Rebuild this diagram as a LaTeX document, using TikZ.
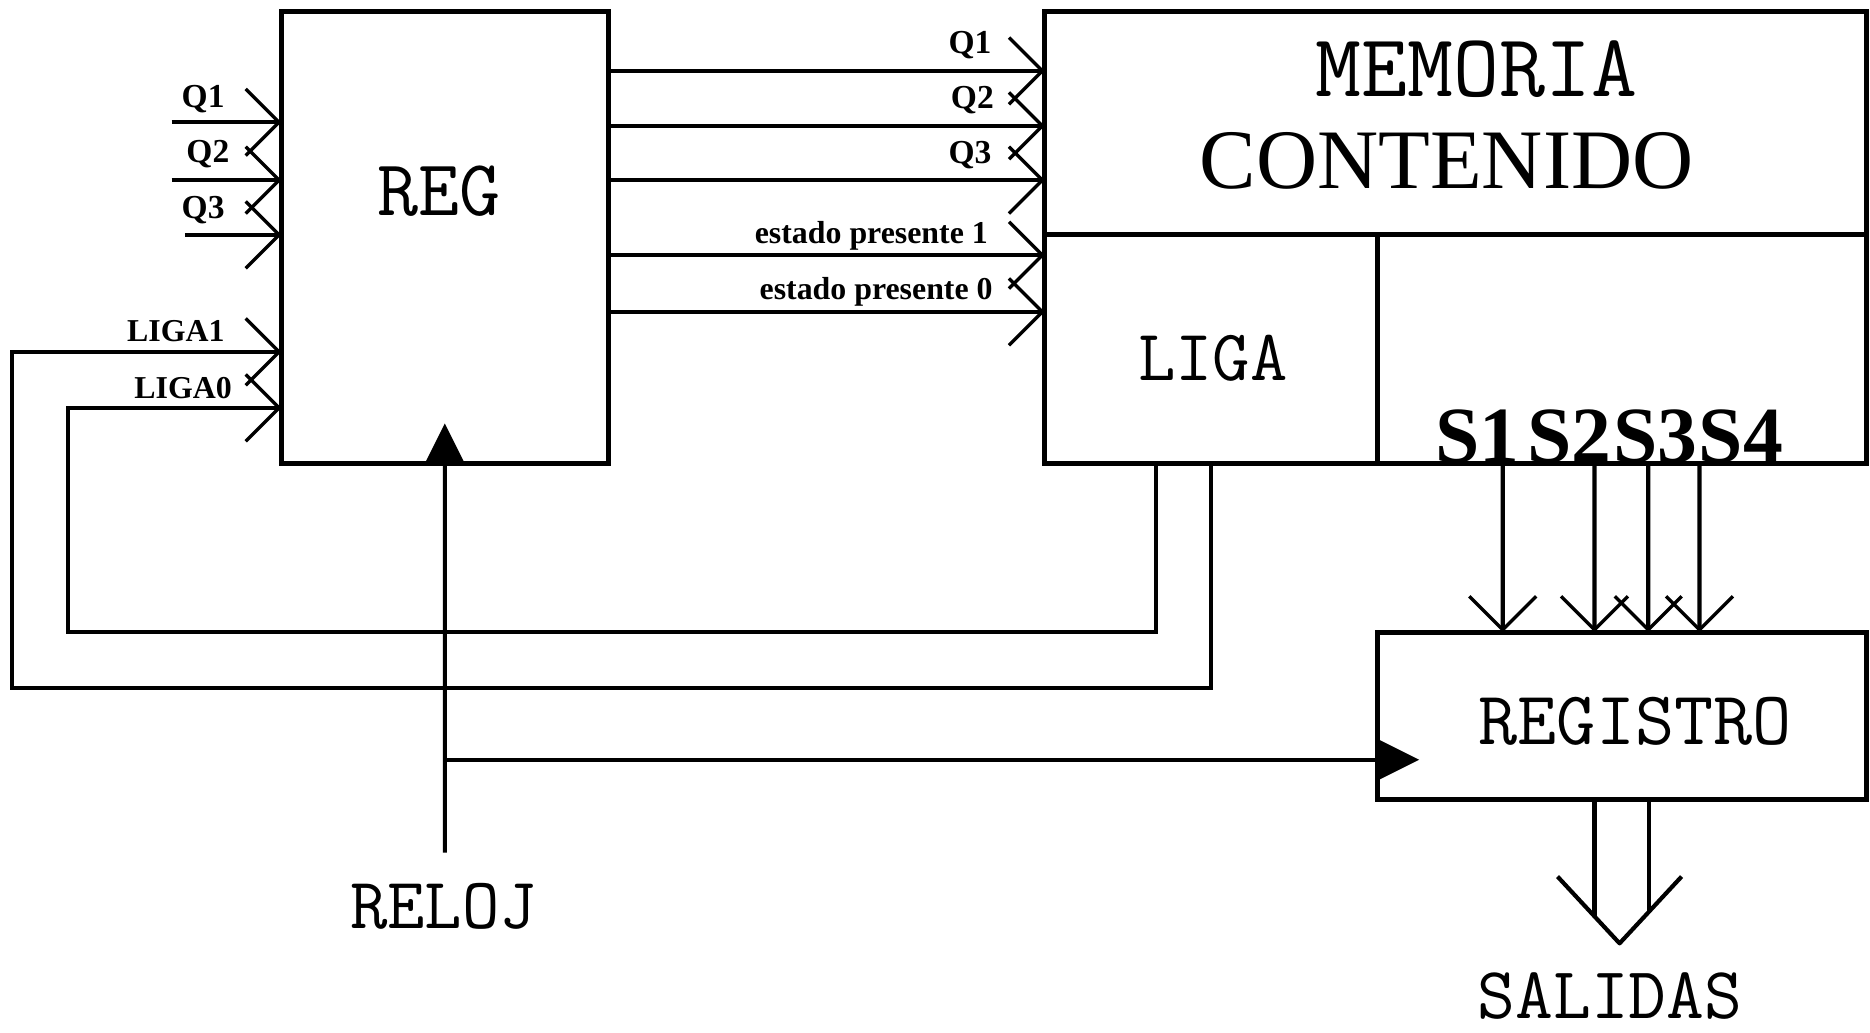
\documentclass[tikz,border=0pt]{standalone}
\usepackage{fontspec}
\setmainfont{Liberation Serif}
\usetikzlibrary{arrows.meta,positioning}
\tikzstyle{block} = [rectangle, draw, line width=1.2pt, inner sep=0pt, outer sep=0pt]
\tikzstyle{wire} = [draw, line width=1pt]
\tikzstyle{sig} = [wire, -{Straight Barb[length=2.8mm, width=5.6mm, line width=0.8pt]}]
\tikzstyle{clk} = [wire, -{Triangle[length=3.4mm, width=3.3mm]}]
\tikzstyle{bigtxt} = [inner sep=0pt, font=\ttfamily\fontsize{17.5}{19}\selectfont]
\tikzstyle{sigtag} = [inner sep=0pt, font=\bfseries\fontsize{8}{9}\selectfont]
\tikzstyle{sigtags} = [inner sep=0pt, font=\bfseries\fontsize{7.6}{9}\selectfont]
\tikzstyle{slabel} = [inner sep=0pt, font=\bfseries\fontsize{19}{21}\selectfont]

\begin{document}
\begin{tikzpicture}
    \useasboundingbox (0,0) rectangle (15.68,-8.66);
    % Place blocks
    \node [block, minimum width=2.74cm, minimum height=3.79cm, anchor=north west] (reg) at (2.36,-0.10) {};
    \node [block, minimum width=6.89cm, minimum height=1.87cm, anchor=north west] (mem) at (8.76,-0.10) {};
    \node [block, minimum width=2.79cm, minimum height=1.92cm, anchor=north west] (liga) at (mem.south west) {};
    \node [block, minimum width=4.10cm, minimum height=1.92cm, anchor=north west] (salmem) at (liga.north east) {};
    \node [block, minimum width=4.10cm, minimum height=1.40cm, anchor=north west] (regis) at (11.55,-5.30) {};
    % Block texts
    \node [bigtxt, font=\ttfamily\fontsize{19}{21}\selectfont] (regtxt) at (3.68,-1.60) {REG};
    \node [bigtxt, font=\ttfamily\fontsize{21.3}{23}\selectfont] (memtxt) at (12.38,-0.58) {MEMORIA};
    \node [inner sep=0pt, font=\fontsize{20.2}{22}\selectfont] (conttxt) at (12.13,-1.35) {CONTENIDO};
    \node [bigtxt, font=\ttfamily\fontsize{17.3}{19}\selectfont] (ligatxt) at (10.17,-3.00) {LIGA};
    \node [bigtxt, font=\ttfamily\fontsize{18.1}{20}\selectfont] (registxt) at (13.71,-6.05) {REGISTRO};
    \node [bigtxt, font=\ttfamily\fontsize{17.3}{19}\selectfont] (reloj) at (3.72,-7.60) {RELOJ};
    \node [bigtxt] (salidas) at (13.50,-8.35) {SALIDAS};
    \node [slabel, anchor=base west] (s1) at (12.03,-3.88) {S1};
    \node [slabel, base right=0.05cm of s1] (s2) {S2};
    \node [slabel, base right=0pt of s2] (s3) {S3};
    \node [slabel, base right=0pt of s3] (s4) {S4};
    % Inputs of REG
    \coordinate (inq1) at (1.44,-1.025);
    \coordinate (inq2) at (1.44,-1.51);
    \coordinate (inq3) at (1.55,-1.97);
    \draw [sig] (inq1) -- (reg.west |- inq1);
    \draw [sig] (inq2) -- (reg.west |- inq2);
    \draw [sig] (inq3) -- (reg.west |- inq3);
    \node [sigtag, anchor=base east] (lq1) at (1.89,-0.905) {Q1};
    \node [sigtag, anchor=base east] (lq2) at (1.93,-1.36) {Q2};
    \node [sigtag, anchor=base east] (lq3) at (1.89,-1.83) {Q3};
    \node [sigtags, anchor=base east] (lliga1) at (1.89,-2.86) {LIGA1};
    \node [sigtags, anchor=base east] (lliga0) at (1.95,-3.34) {LIGA0};
    % REG to memory
    \foreach \y in {0.595,1.055,1.51}
        \draw [sig] (reg.east |- 0,-\y) -- (mem.west |- 0,-\y);
    \foreach \y in {2.14,2.615}
        \draw [sig] (reg.east |- 0,-\y) -- (liga.west |- 0,-\y);
    \node [sigtag, anchor=base east] (mq1) at (8.32,-0.45) {Q1};
    \node [sigtag, anchor=base east] (mq2) at (8.34,-0.91) {Q2};
    \node [sigtag, anchor=base east] (mq3) at (8.32,-1.37) {Q3};
    \node [sigtags, anchor=base east] (mep1) at (8.29,-2.04) {estado presente 1};
    \node [sigtags, anchor=base east] (mep0) at (8.33,-2.515) {estado presente 0};
    % Feedback from LIGA
    \draw [sig] ([xshift=-4.65mm]liga.south) |- (0.57,-5.30) |- ([yshift=-14.25mm]reg.west);
    \draw [sig] (liga.south) |- (0.10,-5.77) |- ([yshift=-9.55mm]reg.west);
    % Outputs S1..S4 to REGISTRO
    \foreach \dx in {1.05,1.82,2.27,2.70}
        \draw [sig] ([xshift=\dx cm]salmem.south west) -- ([xshift=\dx cm]regis.north west);
    % Clock
    \coordinate (clkin) at (3.73,-7.15);
    \coordinate (regclk) at ([yshift=-3.7mm, xshift=3.5mm]regis.west);
    \coordinate (clkbr) at (clkin |- regclk);
    \draw [clk] (clkin) -- ([yshift=3.4mm]reg.south);
    \draw [clk] (clkbr) -- (regclk);
    % Outputs
    \coordinate (outtip) at (13.58,-7.91);
    \draw [wire] ([xshift=1.82cm]regis.south west) -- ++(0,-0.98);
    \draw [wire] ([xshift=2.28cm]regis.south west) -- ++(0,-0.94);
    \draw [wire, line join=round] (outtip) ++(-0.52,0.56) -- (outtip) -- ++(0.52,0.56);
\end{tikzpicture}
\end{document}
